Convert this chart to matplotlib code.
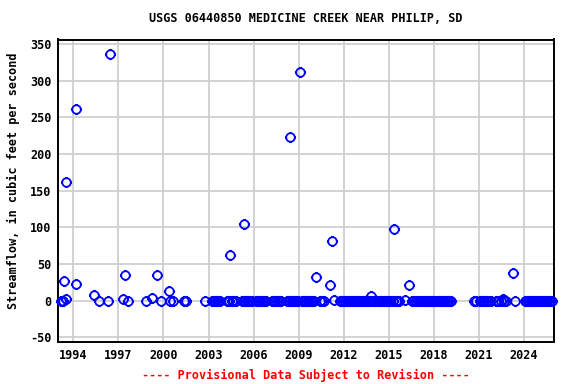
import matplotlib
matplotlib.use("Agg")
import numpy as np
import matplotlib.pyplot as plt
from matplotlib.path import Path

# ---- data (decimal year, streamflow cfs) ----
dates = [
    1993.19, 1993.31, 1993.37, 1993.50, 1993.52, 1994.16, 1994.21, 1995.36, 1995.69,
    1996.29, 1996.42, 1997.33, 1997.42, 1997.64, 1998.86, 1999.21, 1999.57, 1999.81,
    2000.34, 2000.46, 2000.61, 2001.40, 2001.52, 2002.78,
    2003.25, 2003.35, 2003.45, 2003.55, 2003.65, 2003.75,
    2004.25, 2004.35, 2004.46, 2004.55, 2004.65, 2004.80,
    2005.25, 2005.35, 2005.39, 2005.45, 2005.55, 2005.65, 2005.75, 2005.87,
    2006.15, 2006.25, 2006.35, 2006.45, 2006.55, 2006.65, 2006.75, 2006.85,
    2007.25, 2007.35, 2007.45, 2007.55, 2007.70, 2007.85,
    2008.25, 2008.35, 2008.43, 2008.45, 2008.55, 2008.65, 2008.75, 2008.85, 2008.95,
    2009.09, 2009.20, 2009.30, 2009.40, 2009.50, 2009.60, 2009.70, 2009.80, 2009.90,
    2010.05, 2010.18, 2010.45, 2010.55, 2010.70,
    2011.11, 2011.24, 2011.35, 2011.75, 2011.85, 2011.95,
    2012.10, 2012.25, 2012.35, 2012.45, 2012.55, 2012.65, 2012.75, 2012.85, 2012.95,
    2013.10, 2013.25, 2013.35, 2013.45, 2013.55, 2013.65, 2013.75, 2013.81, 2013.95,
    2014.10, 2014.25, 2014.35, 2014.45, 2014.55, 2014.65, 2014.75, 2014.85, 2014.95,
    2015.10, 2015.25, 2015.34, 2015.45, 2015.55, 2015.65,
    2016.07, 2016.34, 2016.55, 2016.65, 2016.80, 2016.95,
    2017.10, 2017.25, 2017.35, 2017.45, 2017.55, 2017.65, 2017.75, 2017.85, 2017.95,
    2018.10, 2018.25, 2018.35, 2018.45, 2018.55, 2018.65, 2018.75, 2018.85, 2018.95,
    2019.05, 2019.15,
    2020.67, 2020.79,
    2021.05, 2021.15, 2021.25, 2021.35, 2021.45, 2021.60, 2021.80,
    2022.15, 2022.30, 2022.45, 2022.60, 2022.70, 2022.83,
    2023.27, 2023.43,
    2024.05, 2024.15, 2024.25, 2024.35, 2024.45, 2024.55, 2024.65, 2024.75, 2024.85, 2024.95,
    2025.05, 2025.20, 2025.35, 2025.45, 2025.55, 2025.65, 2025.75, 2025.90,
]
flows = [
    0, 0, 27, 162, 2, 23, 261, 8, 0,
    0, 337, 2, 35, 0, 0, 3, 35, 0,
    13, 0, 0, 0, 0, 0,
    0, 0, 0, 0, 0, 0,
    0, 0, 62, 0, 0, 0,
    0, 0, 105, 0, 0, 0, 0, 0,
    0, 0, 0, 0, 0, 0, 0, 0,
    0, 0, 0, 0, 0, 0,
    0, 0, 223, 0, 0, 0, 0, 0, 0,
    312, 0, 0, 0, 0, 0, 0, 0, 0,
    0, 32, 0, 0, 0,
    21, 81, 1, 0, 0, 0,
    0, 0, 0, 0, 0, 0, 0, 0, 0,
    0, 0, 0, 0, 0, 0, 0, 7, 0,
    0, 0, 0, 0, 0, 0, 0, 0, 0,
    0, 0, 98, 0, 0, 0,
    1, 21, 0, 0, 0, 0,
    0, 0, 0, 0, 0, 0, 0, 0, 0,
    0, 0, 0, 0, 0, 0, 0, 0, 0,
    0, 0,
    0, 0,
    0, 0, 0, 0, 0, 0, 0,
    0, 0, 0, 2, 0, 0,
    38, 0,
    0, 0, 0, 0, 0, 0, 0, 0, 0, 0,
    0, 0, 0, 0, 0, 0, 0, 0,
]
xticks = [1994, 1997, 2000, 2003, 2006, 2009, 2012, 2015, 2018, 2021, 2024]
yticks = [-50, 0, 50, 100, 150, 200, 250, 300, 350]

title = "USGS 06440850 MEDICINE CREEK NEAR PHILIP, SD"
ylabel = "Streamflow, in cubic feet per second"
footer = "---- Provisional Data Subject to Revision ----"

# ---- marker: open circle with four small ticks ----
r, t = 1.0, 1.3
ang = np.linspace(0, 2 * np.pi, 41)
circ = np.column_stack([r * np.cos(ang), r * np.sin(ang)])
verts = list(map(tuple, circ))
codes = [Path.MOVETO] + [Path.LINETO] * (len(verts) - 1)
for (a, b) in [((0, r), (0, t)), ((0, -r), (0, -t)), ((r, 0), (t, 0)), ((-r, 0), (-t, 0))]:
    verts += [a, b]
    codes += [Path.MOVETO, Path.LINETO]
marker = Path(verts, codes)

font = "DejaVu Sans Mono"
fs = 8.5

fig = plt.figure(figsize=(5.76, 3.84), dpi=100)
ax = fig.add_axes([58.3 / 576, 1 - 341.7 / 384, (554 - 58.3) / 576, (341.7 - 39.5) / 384])

ax.plot(dates, flows, linestyle="none", marker=marker, markersize=8.0,
        markerfacecolor="none", markeredgecolor="#0000ff", markeredgewidth=1.3,
        clip_on=False, zorder=3)

ax.set_xlim(1993.0, 2026.0)
ax.set_ylim(-56, 356.2)
ax.set_xticks(xticks)
ax.set_yticks(yticks)
ax.set_xticklabels([str(v) for v in xticks], fontfamily=font, fontweight="bold", fontsize=fs)
ax.set_yticklabels([str(v) for v in yticks], fontfamily=font, fontweight="bold", fontsize=fs)
ax.tick_params(length=0, pad=5)
ax.grid(True, color="#cccccc", linewidth=1.2)
ax.set_axisbelow(True)
for s in ax.spines.values():
    s.set_linewidth(1.4)
    s.set_color("black")

fig.text(306 / 576, 1 - 19 / 384, title, ha="center", va="center",
         fontfamily=font, fontweight="bold", fontsize=fs)
fig.text(13 / 576, 1 - 181 / 384, ylabel, ha="center", va="center", rotation=90,
         fontfamily=font, fontweight="bold", fontsize=fs)
fig.text(306 / 576, 1 - 375 / 384, footer, ha="center", va="center", color="red",
         fontfamily=font, fontweight="bold", fontsize=fs)

fig.savefig("out.png", dpi=100)
